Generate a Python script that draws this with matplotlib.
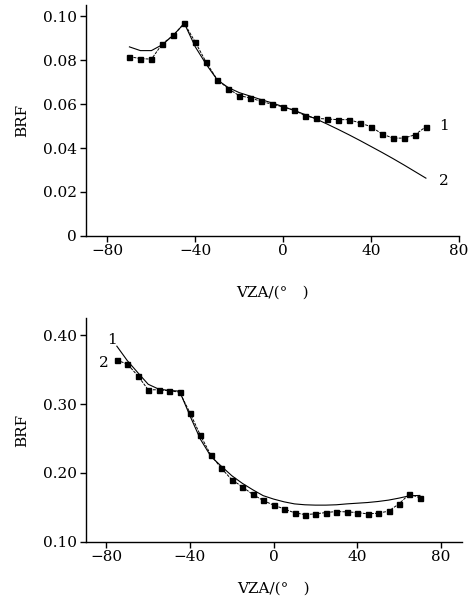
import matplotlib
matplotlib.use("Agg")
import matplotlib.pyplot as plt

plt.rcParams['font.family'] = ['DejaVu Serif']

# top panel
vza_top = list(range(-70, 70, 5))
brf_top_meas = [0.0815, 0.0807, 0.0804, 0.0874, 0.0913, 0.0967, 0.0881, 0.0789,
                0.0711, 0.0670, 0.0638, 0.0628, 0.0612, 0.0599, 0.0587, 0.0573,
                0.0547, 0.0535, 0.0532, 0.0529, 0.0529, 0.0514, 0.0497, 0.0464,
                0.0445, 0.0445, 0.0460, 0.0497]
brf_top_model = [0.0860, 0.0843, 0.0843, 0.0870, 0.0913, 0.0967, 0.0860, 0.0780,
                 0.0710, 0.0675, 0.0652, 0.0636, 0.0620, 0.0605, 0.0588, 0.0571,
                 0.0552, 0.0532, 0.0509, 0.0485, 0.0460, 0.0434, 0.0407, 0.0380,
                 0.0352, 0.0323, 0.0293, 0.0263]

# bottom panel
vza_bot = list(range(-75, 75, 5))
brf_bot_meas = [0.364, 0.3585, 0.3415, 0.321, 0.321, 0.3195, 0.3176, 0.2873,
                0.2546, 0.2259, 0.2068, 0.1902, 0.180, 0.1688, 0.160, 0.1532,
                0.1478, 0.142, 0.1395, 0.1405, 0.1424, 0.1439, 0.1434, 0.1424,
                0.1405, 0.1415, 0.1444, 0.1551, 0.1693, 0.1639]
brf_bot_model = [0.3844, 0.3634, 0.346, 0.329, 0.322, 0.320, 0.319, 0.283,
                 0.249, 0.224, 0.2098, 0.196, 0.185, 0.1756, 0.167, 0.162,
                 0.158, 0.155, 0.1537, 0.1532, 0.1532, 0.1537, 0.155, 0.156,
                 0.157, 0.1585, 0.1605, 0.1634, 0.1668, 0.1673]

fs = 11
fig = plt.figure(figsize=(4.75, 6.06), dpi=100)
ax1 = fig.add_axes([0.180, 0.6106, 0.786, 0.381])
ax2 = fig.add_axes([0.180, 0.1061, 0.792, 0.3687])


def style(ax, xpad):
    for s in ['top', 'right']:
        ax.spines[s].set_visible(False)
    for s in ['left', 'bottom']:
        ax.spines[s].set_linewidth(1.0)
    ax.tick_params(direction='out', length=4, width=1.0, pad=2, labelsize=fs)
    ax.set_xticks([-80, -40, 0, 40, 80])
    ax.set_xticklabels(['\u221280', '\u221240', '0', '40', '80'])
    ax.set_ylabel('BRF', fontsize=fs, labelpad=10)
    ax.set_xlabel('VZA/(\u00b0\u2003)', fontsize=fs, labelpad=xpad)


mk = dict(color='black', marker='s', markersize=3.6, linewidth=0.7, linestyle=(0, (3, 1.2)))
ln = dict(color='black', linewidth=0.8)

ax1.plot(vza_top, brf_top_model, **ln)
ax1.plot(vza_top, brf_top_meas, **mk)
ax1.set_xlim(-90, 80)
ax1.set_ylim(0, 0.105)
ax1.set_yticks([0, 0.02, 0.04, 0.06, 0.08, 0.10])
ax1.set_yticklabels(['0', '0.02', '0.04', '0.06', '0.08', '0.10'])
style(ax1, 20)
ax1.text(71, 0.0498, '1', fontsize=fs, va='center', ha='left')
ax1.text(71, 0.0250, '2', fontsize=fs, va='center', ha='left')

ax2.plot(vza_bot, brf_bot_model, **ln)
ax2.plot(vza_bot, brf_bot_meas, **mk)
ax2.set_xlim(-90, 90)
ax2.set_ylim(0.10, 0.425)
ax2.set_yticks([0.10, 0.20, 0.30, 0.40])
ax2.set_yticklabels(['0.10', '0.20', '0.30', '0.40'])
style(ax2, 13)
ax2.text(-77.5, 0.394, '1', fontsize=fs, va='center', ha='center')
ax2.text(-81, 0.360, '2', fontsize=fs, va='center', ha='center')

fig.savefig('out.png', dpi=100)
